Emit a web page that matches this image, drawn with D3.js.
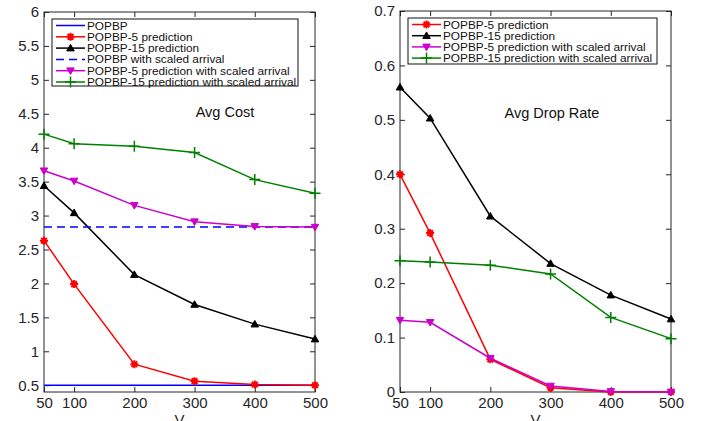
<!DOCTYPE html>
<html>
<head>
<meta charset="utf-8">
<script src="https://cdn.jsdelivr.net/npm/d3@7"></script>
<style>
body { margin: 0; background: #fff; }
text { font-family: "Liberation Sans", Arial, sans-serif; }
</style>
</head>
<body>
<script>
var V = [50, 100, 200, 300, 400, 500];

// Avg Cost
var costPopbp = [0.5, 0.5, 0.5, 0.5, 0.5, 0.5];
var costPred5 = [2.63, 1.99, 0.81, 0.56, 0.51, 0.50];
var costPred15 = [3.44, 3.04, 2.13, 1.69, 1.40, 1.18];
var costPopbpScaled = [2.83, 2.83, 2.83, 2.83, 2.83, 2.83];
var costPred5Scaled = [3.66, 3.51, 3.15, 2.91, 2.84, 2.83];
var costPred15Scaled = [4.20, 4.06, 4.02, 3.93, 3.53, 3.33];

// Avg Drop Rate
var dropPred5 = [0.40, 0.292, 0.06, 0.008, 0.0, 0.0];
var dropPred15 = [0.56, 0.503, 0.323, 0.236, 0.178, 0.134];
var dropPred5Scaled = [0.132, 0.128, 0.062, 0.011, 0.001, 0.0];
var dropPred15Scaled = [0.241, 0.239, 0.233, 0.217, 0.137, 0.098];

var costTicks = [0.5, 1, 1.5, 2, 2.5, 3, 3.5, 4, 4.5, 5, 5.5, 6];
var dropTicks = [0, 0.1, 0.2, 0.3, 0.4, 0.5, 0.6, 0.7];

var svg = d3.select("body").append("svg")
    .attr("width", 710)
    .attr("height", 421);

var symStar = {
  draw: function (ctx, size) {
    var r = Math.sqrt(size) / 2;
    for (var k = 0; k < 4; k++) {
      var a = k * Math.PI / 4;
      ctx.moveTo(-r * Math.cos(a), -r * Math.sin(a));
      ctx.lineTo(r * Math.cos(a), r * Math.sin(a));
    }
  }
};
var symPlus = {
  draw: function (ctx, size) {
    var r = Math.sqrt(size) / 2;
    ctx.moveTo(-r, 0); ctx.lineTo(r, 0);
    ctx.moveTo(0, -r); ctx.lineTo(0, r);
  }
};
var symUp = {
  draw: function (ctx, size) {
    var r = Math.sqrt(size) / 2;
    ctx.moveTo(0, -r); ctx.lineTo(r, r * 0.75); ctx.lineTo(-r, r * 0.75); ctx.closePath();
  }
};
var symDown = {
  draw: function (ctx, size) {
    var r = Math.sqrt(size) / 2;
    ctx.moveTo(0, r); ctx.lineTo(r, -r * 0.75); ctx.lineTo(-r, -r * 0.75); ctx.closePath();
  }
};

function panel(box, yDomain, yTicks, series, legendBox, title) {
  var g = svg.append("g");
  var x = d3.scaleLinear().domain([50, 500]).range([box.left, box.right]);
  var y = d3.scaleLinear().domain(yDomain).range([box.bottom, box.top]);

  var ax = g.append("g").attr("transform", "translate(0," + box.bottom + ")")
    .call(d3.axisBottom(x).tickValues(V).tickSize(-5).tickPadding(5).tickFormat(d3.format("d")));
  var axT = g.append("g").attr("transform", "translate(0," + box.top + ")")
    .call(d3.axisTop(x).tickValues(V).tickSize(-5).tickFormat(""));
  var ay = g.append("g").attr("transform", "translate(" + box.left + ",0)")
    .call(d3.axisLeft(y).tickValues(yTicks).tickSize(-5).tickPadding(5).tickFormat(d3.format("")));
  var ayR = g.append("g").attr("transform", "translate(" + box.right + ",0)")
    .call(d3.axisRight(y).tickValues(yTicks).tickSize(-5).tickFormat(""));
  [ax, axT, ay, ayR].forEach(function (a) {
    a.select(".domain").remove();
    a.selectAll("line").attr("stroke", "#262626");
    a.selectAll("text").attr("fill", "#262626").style("font-size", "15px");
  });
  g.append("rect").attr("x", box.left).attr("y", box.top)
    .attr("width", box.right - box.left).attr("height", box.bottom - box.top)
    .attr("fill", "none").attr("stroke", "#262626").attr("stroke-width", 1);

  g.append("text").attr("x", (box.left + box.right) / 2).attr("y", 425)
    .attr("text-anchor", "middle").style("font-size", "15px").attr("fill", "#262626").text("V");

  var line = d3.line().x(function (d) { return x(d[0]); }).y(function (d) { return y(d[1]); });

  series.forEach(function (s) {
    var pts = V.map(function (v, i) { return [v, s.values[i]]; });
    g.append("path").datum(pts).attr("d", line)
      .attr("fill", "none").attr("stroke", s.color).attr("stroke-width", 1.5)
      .attr("stroke-dasharray", s.dash || null);
    if (s.sym) {
      g.selectAll(null).data(pts).enter().append("path")
        .attr("transform", function (d) { return "translate(" + x(d[0]) + "," + y(d[1]) + ")"; })
        .attr("d", d3.symbol().type(s.sym).size(s.size || 64))
        .attr("fill", s.fill ? s.color : "none")
        .attr("stroke", s.color).attr("stroke-width", s.sw || 1.5);
    }
  });

  g.append("text").attr("x", title.x).attr("y", title.y).attr("text-anchor", "middle")
    .style("font-size", "14.5px").attr("fill", "#111").text(title.text);

  // legend
  var lg = g.append("g");
  lg.append("rect").attr("x", legendBox.x).attr("y", legendBox.y)
    .attr("width", legendBox.w).attr("height", legendBox.h)
    .attr("fill", "#fff").attr("stroke", "#111").attr("stroke-width", 1);
  series.forEach(function (s, i) {
    var cy = legendBox.y + 6.5 + i * legendBox.step;
    var x0 = legendBox.x + 4, x1 = legendBox.x + 33;
    lg.append("line").attr("x1", x0).attr("x2", x1).attr("y1", cy).attr("y2", cy)
      .attr("stroke", s.color).attr("stroke-width", 1.5).attr("stroke-dasharray", s.dash || null);
    if (s.sym) {
      lg.append("path").attr("transform", "translate(" + ((x0 + x1) / 2) + "," + cy + ")")
        .attr("d", d3.symbol().type(s.sym).size(s.size || 64))
        .attr("fill", s.fill ? s.color : "none")
        .attr("stroke", s.color).attr("stroke-width", s.sw || 1.5);
    }
    lg.append("text").attr("x", x1 + 2).attr("y", cy + 4)
      .style("font-size", "11.8px").attr("fill", "#111").text(s.name);
  });
}

panel({left: 44, right: 315, top: 12, bottom: 392}, [0.4, 6], costTicks, [
  {name: "POPBP", values: costPopbp, color: "#0000ff"},
  {name: "POPBP-5 prediction", values: costPred5, color: "#ff0000", sym: symStar, size: 64, sw: 2},
  {name: "POPBP-15 prediction", values: costPred15, color: "#000000", sym: symUp, size: 56, fill: true, sw: 1},
  {name: "POPBP with scaled arrival", values: costPopbpScaled, color: "#0000ff", dash: "8,5"},
  {name: "POPBP-5 prediction with scaled arrival", values: costPred5Scaled, color: "#cc00cc", sym: symDown, size: 56, fill: true, sw: 1},
  {name: "POPBP-15 prediction with scaled arrival", values: costPred15Scaled, color: "#008000", sym: symPlus, size: 121}
], {x: 52, y: 19, w: 246, h: 67, step: 11.3}, {x: 225, y: 117, text: "Avg Cost"});

panel({left: 400, right: 671, top: 11, bottom: 392}, [0, 0.7], dropTicks, [
  {name: "POPBP-5 prediction", values: dropPred5, color: "#ff0000", sym: symStar, size: 64, sw: 2},
  {name: "POPBP-15 prediction", values: dropPred15, color: "#000000", sym: symUp, size: 56, fill: true, sw: 1},
  {name: "POPBP-5 prediction with scaled arrival", values: dropPred5Scaled, color: "#cc00cc", sym: symDown, size: 56, fill: true, sw: 1},
  {name: "POPBP-15 prediction with scaled arrival", values: dropPred15Scaled, color: "#008000", sym: symPlus, size: 121}
], {x: 408, y: 18, w: 249, h: 46, step: 11.2}, {x: 552, y: 118, text: "Avg Drop Rate"});
</script>
</body>
</html>
